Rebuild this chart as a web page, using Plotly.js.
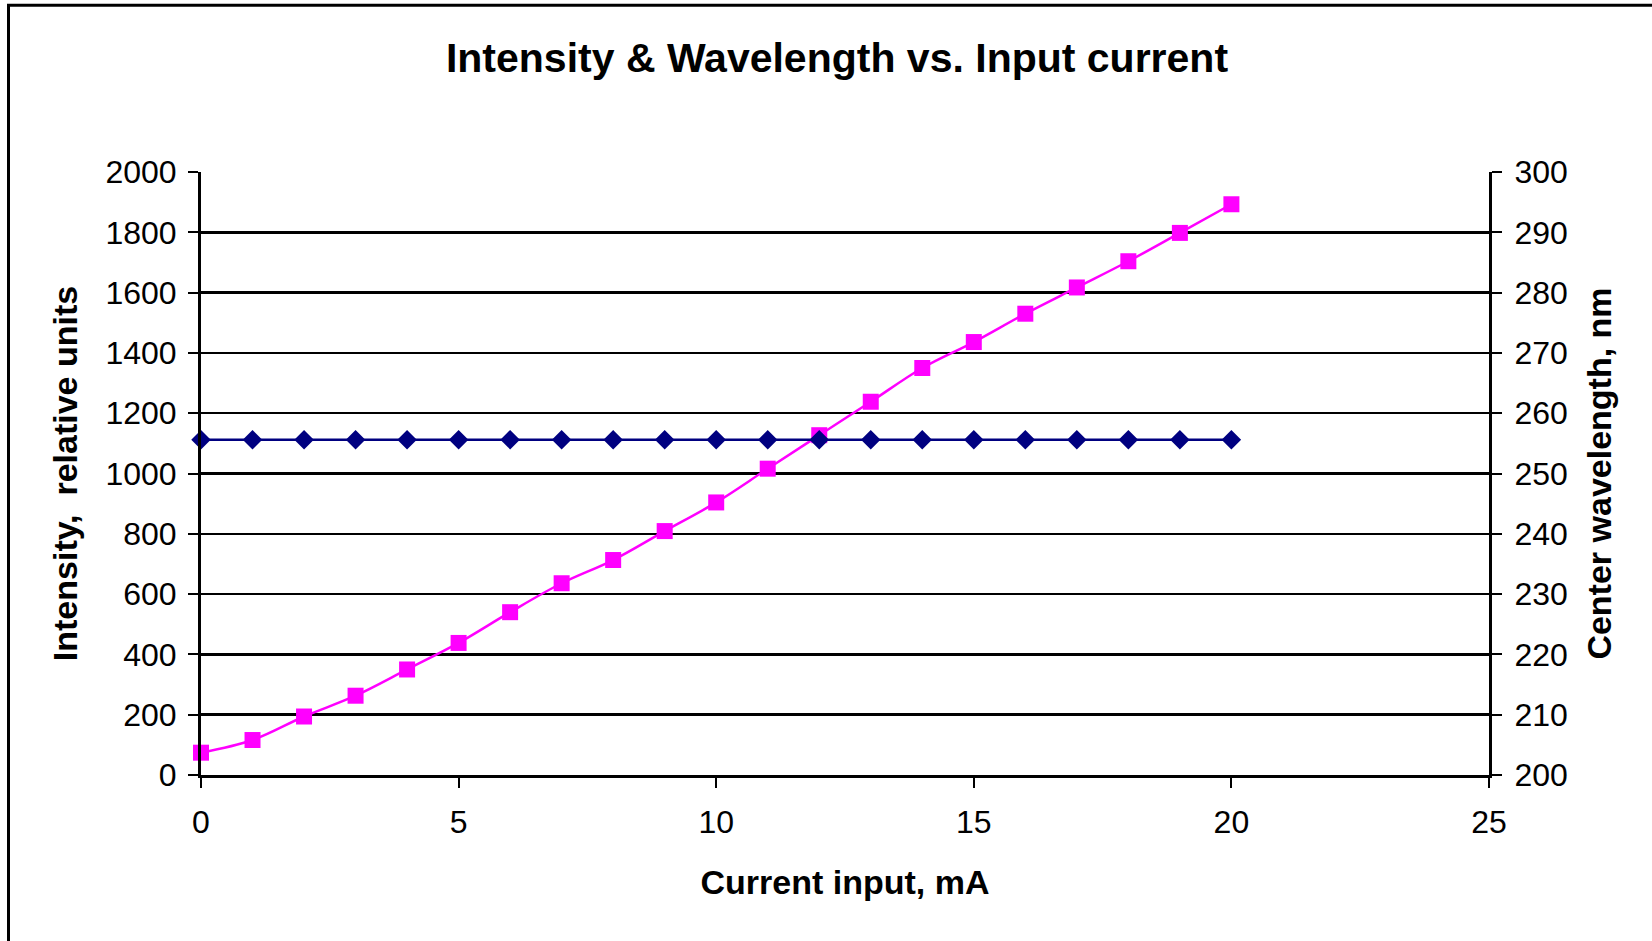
<!DOCTYPE html>
<html>
<head>
<meta charset="utf-8">
<script src="https://cdn.plot.ly/plotly-3.0.1.min.js"></script>
<style>
  html, body { margin: 0; padding: 0; background: #ffffff; }
  #chart { width: 1652px; height: 941px; }
</style>
</head>
<body>
<div id="chart"></div>
<script>
// ---- data ----
const currentMA = [0, 1, 2, 3, 4, 5, 6, 7, 8, 9, 10, 11, 12, 13, 14, 15, 16, 17, 18, 19, 20];
const intensity = [74, 116, 194, 263, 350, 438, 540, 636, 713, 809, 904, 1016, 1127, 1238, 1350, 1436, 1530, 1617, 1704, 1798, 1893];
const wavelengthNm = [255.6, 255.6, 255.6, 255.6, 255.6, 255.6, 255.6, 255.6, 255.6, 255.6, 255.6,
                      255.6, 255.6, 255.6, 255.6, 255.6, 255.6, 255.6, 255.6, 255.6, 255.6];
const chartTitle = "Intensity & Wavelength vs. Input current";
const xTitle = "Current input, mA";
const yTitle = "Intensity,  relative units";
const y2Title = "Center wavelength, nm";

// ---- layout constants ----
const W = 1652, H = 941;
const M = { l: 201, r: 163, t: 172, b: 166 };
const PW = W - M.l - M.r, PH = H - M.t - M.b;
const px2x = p => (p - M.l) / PW;
const px2y = p => (H - M.b - p) / PH;

const FONT = "Liberation Sans, Arial, Helvetica, sans-serif";

const traces = [
  {
    x: currentMA, y: intensity, type: "scatter", mode: "lines+markers",
    name: "Intensity", yaxis: "y",
    line: { color: "#FF00FF", width: 2.5, shape: "spline", smoothing: 1 },
    marker: { symbol: "square", size: 16, color: "#FF00FF" },
    cliponaxis: false
  },
  {
    x: currentMA, y: wavelengthNm, type: "scatter", mode: "lines+markers",
    name: "Wavelength", yaxis: "y2",
    line: { color: "#000080", width: 2.5 },
    marker: { symbol: "diamond", size: 15, color: "#000080" },
    cliponaxis: false
  }
];

const layout = {
  width: W, height: H,
  margin: M,
  paper_bgcolor: "#ffffff", plot_bgcolor: "#ffffff",
  showlegend: false,
  font: { family: FONT, color: "#000000", size: 32 },
  title: {
    text: "<b>" + chartTitle + "</b>",
    font: { family: FONT, size: 41, color: "#000000" },
    x: px2x(837), xref: "paper", xanchor: "center",
    y: 1 - 58 / H, yref: "container", yanchor: "middle"
  },
  xaxis: {
    range: [0, 25], dtick: 5, tick0: 0,
    showgrid: false, zeroline: false,
    showline: true, linecolor: "#000000", linewidth: 3,
    ticks: "outside", ticklen: 10, tickwidth: 2, tickcolor: "#000000",
    ticklabelstandoff: 7,
    tickfont: { family: FONT, size: 32 },
    title: { text: "<b>" + xTitle + "</b>", font: { family: FONT, size: 34 }, standoff: 31 },
    automargin: false
  },
  yaxis: {
    range: [0, 2000], dtick: 200, tick0: 0,
    showgrid: true, gridcolor: "#000000", gridwidth: 2.5,
    zeroline: false,
    showline: true, linecolor: "#000000", linewidth: 3,
    ticks: "outside", ticklen: 10, tickwidth: 2, tickcolor: "#000000",
    ticklabelstandoff: 5,
    tickfont: { family: FONT, size: 32 },
    title: { text: "<b>" + yTitle + "</b>", font: { family: FONT, size: 34 }, standoff: 18 },
    automargin: false
  },
  yaxis2: {
    range: [200, 300], dtick: 10, tick0: 200,
    overlaying: "y", side: "right",
    showgrid: false, zeroline: false,
    showline: true, linecolor: "#000000", linewidth: 3,
    ticks: "outside", ticklen: 10, tickwidth: 2, tickcolor: "#000000",
    ticklabelstandoff: 6,
    tickfont: { family: FONT, size: 32 },
    title: { text: "<b>" + y2Title + "</b>", font: { family: FONT, size: 34 }, standoff: 21 },
    automargin: false
  },
  shapes: [
    { type: "line", xref: "paper", yref: "paper",
      x0: px2x(8.5), x1: px2x(8.5), y0: px2y(H + 5), y1: px2y(4),
      line: { color: "#000000", width: 3 } },
    { type: "line", xref: "paper", yref: "paper",
      x0: px2x(7), x1: px2x(W + 5), y0: px2y(5.3), y1: px2y(5.3),
      line: { color: "#000000", width: 3 } }
  ]
};

Plotly.newPlot("chart", traces, layout, { displayModeBar: false, staticPlot: true });
</script>
</body>
</html>
